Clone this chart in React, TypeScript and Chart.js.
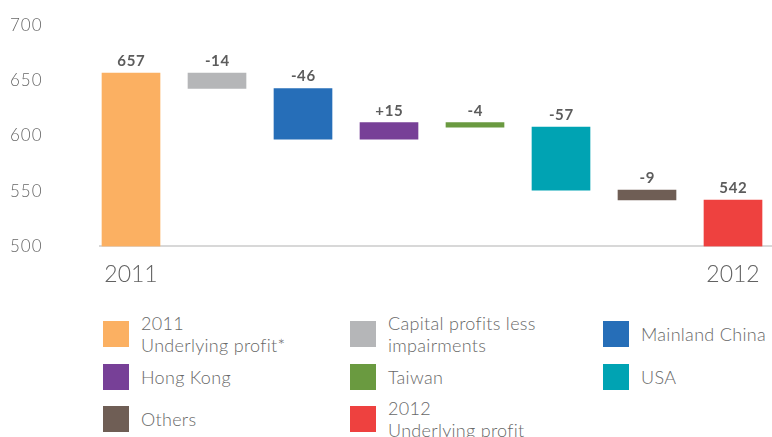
import React, { useEffect, useRef } from "react";
import { Chart, registerables } from "chart.js";

Chart.register(...registerables);

// ---- data ----
const categories: string[] = [
  "2011\nUnderlying profit*",
  "Capital profits less\nimpairments",
  "Mainland China",
  "Hong Kong",
  "Taiwan",
  "USA",
  "Others",
  "2012\nUnderlying profit",
];
const startValue = 657;
const changes: number[] = [-14, -46, 15, -4, -57, -9];
const endValue = 542;
const valueLabels: string[] = ["657", "-14", "-46", "+15", "-4", "-57", "-9", "542"];
const barColors: string[] = [
  "#FBB062",
  "#B5B6B8",
  "#266EB8",
  "#774097",
  "#6A9A40",
  "#00A3B3",
  "#6F5E55",
  "#EE413F",
];
const xTickValues: number[] = [0, 7];
const xTickLabels: string[] = ["2011", "2012"];
const yMin = 500;
const yMax = 700;
const yStep = 50;

const FONT = "Lato, 'Noto Sans', sans-serif";
const TEXT = "#686868";

function buildRanges(): [number, number][] {
  const out: [number, number][] = [[yMin, startValue]];
  let running = startValue;
  for (const c of changes) {
    const next = running + c;
    out.push([running, next]);
    running = next;
  }
  out.push([yMin, endValue]);
  return out;
}

const spacingPlugin = {
  id: "spacing",
  beforeDraw(chart: any) {
    chart.ctx.letterSpacing = "1px";
  },
};

const valueLabelPlugin = {
  id: "valueLabels",
  afterDatasetsDraw(chart: any) {
    const ctx = chart.ctx;
    const meta = chart.getDatasetMeta(0);
    ctx.save();
    ctx.font = `bold 15px ${FONT}`;
    ctx.letterSpacing = "0.6px";
    ctx.fillStyle = "#5c5c5c";
    ctx.textAlign = "center";
    ctx.textBaseline = "alphabetic";
    meta.data.forEach((bar: any, i: number) => {
      const top = Math.min(bar.y, bar.base);
      ctx.fillText(valueLabels[i], bar.x + 0.3, top - 7);
    });
    ctx.restore();
    ctx.letterSpacing = "0px";
  },
};

export default function App() {
  const canvasRef = useRef<HTMLCanvasElement | null>(null);

  useEffect(() => {
    if (!canvasRef.current) return;
    const ranges = buildRanges();
    const chart = new Chart(canvasRef.current, {
      type: "bar",
      data: {
        datasets: [
          {
            data: ranges.map((r, i) => ({ x: i, y: r })) as any,
            backgroundColor: barColors,
            borderWidth: 0,
            barThickness: 58,
          },
        ],
      },
      options: {
        responsive: false,
        animation: false,
        layout: { padding: { left: 10, top: 25.5, right: 0, bottom: 0 } },
        plugins: {
          legend: { display: false },
          tooltip: { enabled: false },
        },
        scales: {
          x: {
            type: "linear",
            offset: false,
            min: -0.3605,
            max: 7.4535,
            afterBuildTicks: (scale: any) => {
              scale.ticks = xTickValues.map((v) => ({ value: v }));
            },
            afterFit: (scale: any) => {
              scale.height = 53.6;
            },
            grid: { display: false, drawTicks: false },
            border: { display: true, color: "#d8d8d8", width: 2 },
            ticks: {
              z: 1,
              padding: 0,
              maxRotation: 0,
              autoSkip: false,
              color: "#626262",
              font: { family: FONT, size: 23, weight: "300", lineHeight: 55.6 / 23 },
              callback: (v: any) => {
                const idx = xTickValues.indexOf(Number(v));
                return idx >= 0 ? xTickLabels[idx] : "";
              },
            },
          },
          y: {
            min: yMin,
            max: yMax,
            afterFit: (scale: any) => {
              scale.width = 90;
            },
            grid: { display: false, drawTicks: false },
            border: { display: false },
            ticks: {
              stepSize: yStep,
              padding: 0,
              crossAlign: "far",
              color: TEXT,
              font: { family: FONT, size: 17, weight: "300" },
            },
          },
        },
      },
      plugins: [spacingPlugin, valueLabelPlugin],
    } as any);
    return () => chart.destroy();
  }, []);

  const colX = [103, 350, 603];
  const rowY = [321, 364, 406];

  return (
    <div
      style={{
        position: "absolute",
        left: 0,
        top: 0,
        width: 772,
        height: 437,
        overflow: "hidden",
        background: "#ffffff",
        fontFamily: FONT,
      }}
    >
      <canvas
        ref={canvasRef}
        width={772}
        height={300}
        style={{ position: "absolute", left: 0, top: 0, display: "block" }}
      />
      {categories.map((c, i) => (
        <div
          key={i}
          style={{
            position: "absolute",
            left: colX[i % 3],
            top: rowY[Math.floor(i / 3)],
            height: 26,
            display: "flex",
            alignItems: "center",
          }}
        >
          <div style={{ width: 26, height: 26, background: barColors[i], flex: "none" }} />
          <div
            style={{
              marginLeft: 12,
              fontSize: 18,
              fontWeight: 300,
              letterSpacing: "0.3px",
              lineHeight: "22px",
              color: TEXT,
              whiteSpace: "pre",
            }}
          >
            {c}
          </div>
        </div>
      ))}
    </div>
  );
}
